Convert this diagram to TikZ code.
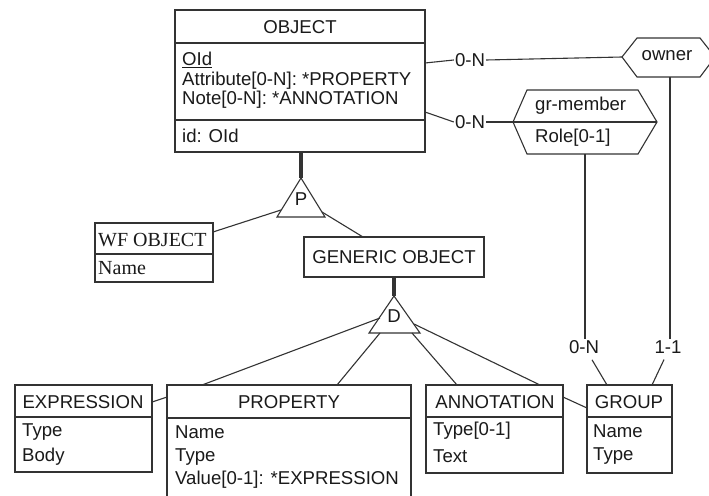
\documentclass[tikz,border=0pt]{standalone}
\usepackage{fontspec}
\setmainfont{Liberation Sans}
\newfontfamily\tms{Liberation Serif}
\definecolor{ln}{HTML}{333333}
\definecolor{tx}{HTML}{1A1A1A}
\begin{document}
\begin{tikzpicture}[x=1pt,y=-1pt,
  box/.style={draw=ln, line width=1.1pt, inner sep=0pt, outer sep=0pt, anchor=north west},
  txt/.style={inner sep=1pt, font=\fontsize{18.6}{20}\selectfont, text=tx},
  ltxt/.style={txt, anchor=west, inner sep=0pt},
  stxt/.style={inner sep=0pt, anchor=west, font=\tms\fontsize{20}{21}\selectfont, text=tx},
  link/.style={draw=ln, line width=1.1pt},
  isa/.style={draw=ln, line width=3.8pt},
  tri/.style={draw=ln, fill=white, line width=1.1pt, line join=miter}
]
\path[use as bounding box] (0,0) rectangle (709,495);
\fill[white] (0,0) rectangle (709,495);
\clip (0,0) rectangle (709,495);

% ---------- OBJECT ----------
\node[box, minimum width=250pt, minimum height=142pt] (obj) at (175,10) {};
\draw[link] (obj.west |- 0,43) -- (obj.east |- 0,43);
\draw[link] (obj.west |- 0,120) -- (obj.east |- 0,120);
\node[txt] (objT) at (300,27) {OBJECT};
\node[ltxt] (objR1) at (182,60) {\underline{OId}};
\node[ltxt] (objR2) at (182,81) {Attribute[0-N]: *PROPERTY};
\node[ltxt] (objR3) at (182,100) {Note[0-N]: *ANNOTATION};
\node[ltxt] (objR4) at (182,136) {id: OId};

% ---------- owner ----------
\coordinate (ownW) at (622,57);
\coordinate (ownS) at (670,77);
\draw[link] (ownW) -- (637,38) -- (700,38) -- (715,57) -- (700,77) -- (637,77) -- cycle;
\node[txt] (own) at (667,56) {owner};

% ---------- gr-member ----------
\coordinate (grmW) at (513,122);
\coordinate (grmE) at (657,122);
\coordinate (grmS) at (585,154);
\draw[link] (grmW) -- (527,90) -- (638,90) -- (grmE) -- (638,154) -- (527,154) -- cycle;
\draw[link] (grmW) -- (grmE);
\node[ltxt] (grm) at (535,106) {gr-member};
\node[ltxt] (grmR) at (535,138) {Role[0-1]};

% ---------- cardinalities ----------
\node[txt] (c1) at (470,60) {0-N};
\node[txt] (c2) at (470,122) {0-N};
\node[txt] (c3) at (584,347) {0-N};
\node[txt] (c4) at (668,347) {1-1};
\coordinate (o1) at (425,63);
\coordinate (o2) at (425,112);
\draw[link] (o1) -- (c1.west);
\draw[link] (c1.east) -- (ownW);
\draw[link] (o2) -- (c2.west);
\draw[link] (c2.east) -- (grmW);
\draw[link] (grmS) -- (grmS |- c3.north);
\draw[link] (ownS) -- (ownS |- c4.north);

% ---------- P triangle ----------
\coordinate (Pa) at (301,178);
\coordinate (Pl) at (281,210);
\coordinate (Pr) at (322,212);
\draw[isa] (Pa |- obj.south) -- (Pa);
\draw[tri] (Pa) -- (325,217) -- (277,217) -- cycle;
\node[txt] (P) at (301,199) {P};

% ---------- WF OBJECT ----------
\node[box, minimum width=118pt, minimum height=59pt] (wf) at (95,223) {};
\draw[link] (wf.west |- 0,254) -- (wf.east |- 0,254);
\node[stxt] (wfT) at (98,240) {WF OBJECT};
\node[stxt] (wfR) at (98,268) {Name};
\coordinate (wfC) at (213,232);
\draw[link] (wfC) -- (Pl);

% ---------- GENERIC OBJECT ----------
\node[box, minimum width=180pt, minimum height=40pt] (gen) at (304,237) {};
\node[txt] (genT) at (394,257) {GENERIC OBJECT};
\coordinate (genC) at (363,237);
\draw[link] (Pr) -- (genC);

% ---------- D triangle ----------
\coordinate (Da) at (394,296);
\draw[isa] (Da |- gen.south) -- (Da);
\draw[tri] (Da) -- (420,333) -- (369,333) -- cycle;
\node[txt] (D) at (394,316) {D};
\coordinate (D1) at (380,318);
\coordinate (D2) at (380,333);
\coordinate (D3) at (412,333);
\coordinate (D4) at (414,324);

% ---------- EXPRESSION ----------
\node[box, minimum width=137pt, minimum height=87pt] (expr) at (15,385) {};
\draw[link] (expr.west |- 0,417) -- (expr.east |- 0,417);
\node[txt] (exprT) at (83,402) {EXPRESSION};
\node[ltxt] (exprR1) at (22,432) {Type};
\node[ltxt] (exprR2) at (22,457) {Body};

% ---------- PROPERTY ----------
\node[box, minimum width=244pt, minimum height=130pt] (prop) at (167,385) {};
\draw[link] (prop.west |- 0,418) -- (prop.east |- 0,418);
\node[txt] (propT) at (289,402) {PROPERTY};
\node[ltxt] (propR1) at (175,432) {Name};
\node[ltxt] (propR2) at (175,457) {Type};
\node[ltxt] (propR3) at (175,480) {Value[0-1]: *EXPRESSION};

% ---------- ANNOTATION ----------
\node[box, minimum width=137pt, minimum height=88pt] (ann) at (426,385) {};
\draw[link] (ann.west |- 0,417) -- (ann.east |- 0,417);
\node[txt] (annT) at (495,402) {ANNOTATION};
\node[ltxt] (annR1) at (433,431) {Type[0-1]};
\node[ltxt] (annR2) at (433,456) {Text};

% ---------- GROUP ----------
\node[box, minimum width=85pt, minimum height=88pt] (grp) at (587,385) {};
\draw[link] (grp.west |- 0,417) -- (grp.east |- 0,417);
\node[txt] (grpT) at (629,402) {GROUP};
\node[ltxt] (grpR1) at (593,431) {Name};
\node[ltxt] (grpR2) at (593,456) {Type};

% ---------- D links ----------
\coordinate (pt1) at (202,385);
\coordinate (pt2) at (337,385);
\coordinate (at1) at (457,385);
\coordinate (at2) at (540,385);
\draw[link] (D1) -- (pt1);
\draw[link] (D2) -- (pt2);
\draw[link] (D3) -- (at1);
\draw[link] (D4) -- (at2);

% ---------- other links ----------
\coordinate (ex1) at (152,402);
\coordinate (pr1) at (167,397);
\draw[link] (ex1) -- (pr1);
\coordinate (an1) at (563,397);
\coordinate (gr1) at (587,408);
\draw[link] (an1) -- (gr1);
\coordinate (gt1) at (607,385);
\coordinate (gt2) at (652,385);
\draw[link] ([shift={(8,5)}]c3.south) -- (gt1);
\draw[link] ([shift={(-4,5)}]c4.south) -- (gt2);
\end{tikzpicture}
\end{document}
